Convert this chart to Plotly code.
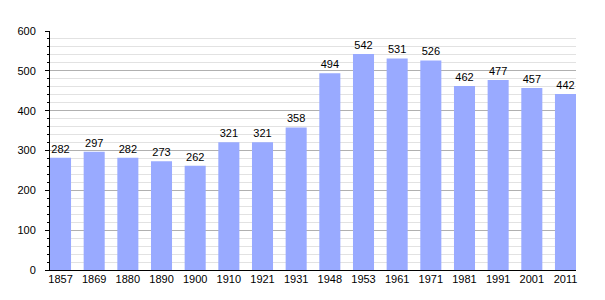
import plotly.graph_objects as go

years = ["1857", "1869", "1880", "1890", "1900", "1910", "1921", "1931",
         "1948", "1953", "1961", "1971", "1981", "1991", "2001", "2011"]
population = [282, 297, 282, 273, 262, 321, 321, 358,
              494, 542, 531, 526, 462, 477, 457, 442]
y_ticks = [0, 100, 200, 300, 400, 500, 600]

FONT = "Liberation Sans, Arial, sans-serif"

fig = go.Figure(go.Bar(
    x=years, y=population,
    width=0.625,
    marker=dict(color="#99aaff", line=dict(width=0)),
    text=[str(v) for v in population],
    textposition="outside",
    textfont=dict(family=FONT, size=11, color="#000000"),
    cliponaxis=False,
))

fig.update_layout(
    width=605, height=300,
    margin=dict(l=50, r=29, t=31, b=30),
    paper_bgcolor="white", plot_bgcolor="white",
    showlegend=False,
    font=dict(family=FONT, size=11, color="#000000"),
    xaxis=dict(
        type="category",
        range=[-0.3125, 15.3125],
        showline=True, linecolor="#000000", linewidth=1,
        ticks="", showgrid=False,
        ticklabelstandoff=-1,
        tickfont=dict(family=FONT, size=11, color="#000000"),
    ),
    yaxis=dict(
        range=[0, 600],
        tickvals=y_ticks,
        showline=True, linecolor="#000000", linewidth=1,
        ticks="outside", ticklen=4, tickcolor="#000000", tickwidth=1,
        ticklabelstandoff=7,
        showgrid=True, gridcolor="#b0b0b0", gridwidth=1,
        zeroline=False,
        minor=dict(dtick=20, ticks="outside", ticklen=2, tickcolor="#000000",
                   showgrid=True, gridcolor="#e2e2e2", gridwidth=1),
        tickfont=dict(family=FONT, size=11, color="#000000"),
    ),
)

fig.write_html("out.html")
